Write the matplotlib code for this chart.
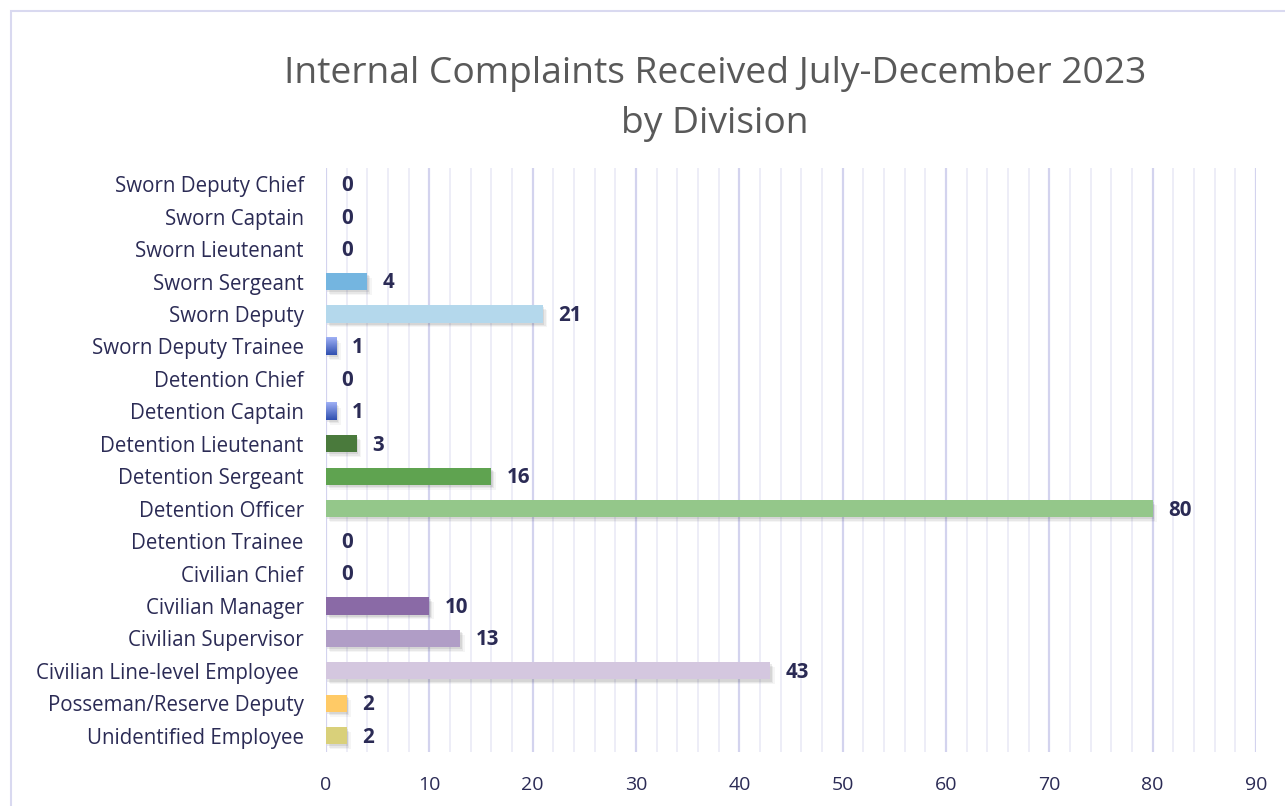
import numpy as np
import matplotlib

matplotlib.use("Agg")

import matplotlib.pyplot as plt
import matplotlib.patheffects as pe
from matplotlib.patches import Rectangle
from matplotlib.colors import LinearSegmentedColormap

# ======================
# DATA
# ======================

categories = [
    "Sworn Deputy Chief",
    "Sworn Captain",
    "Sworn Lieutenant",
    "Sworn Sergeant",
    "Sworn Deputy",
    "Sworn Deputy Trainee",
    "Detention Chief",
    "Detention Captain",
    "Detention Lieutenant",
    "Detention Sergeant",
    "Detention Officer",
    "Detention Trainee",
    "Civilian Chief",
    "Civilian Manager",
    "Civilian Supervisor",
    "Civilian Line-level Employee ",
    "Posseman/Reserve Deputy",
    "Unidentified Employee",
]
counts = [0, 0, 0, 4, 21, 1, 0, 1, 3, 16, 80, 0, 0, 10, 13, 43, 2, 2]
bar_colors = [
    "#74b5e0", "#74b5e0", "#74b5e0", "#74b5e0", "#b4d8ec", "#6a84dc",
    "#6a84dc", "#6a84dc", "#4a7a3c", "#5fa350", "#94c78a", "#94c78a",
    "#8a6aa6", "#8a6aa6", "#b09dc6", "#d4c7df", "#ffca66", "#d9d07a",
]
gradient_rows = ["Sworn Deputy Trainee", "Detention Captain"]

x_ticks = list(range(0, 100, 10))

title_color = "#595959"
text_color = "#2b2b55"

plt.rcParams["font.family"] = ["Open Sans", "DejaVu Sans"]

fig = plt.figure(figsize=(12.85, 8.06), dpi=100)
ax = fig.add_axes([326 / 1285, 1 - 752 / 806, (1256 - 326) / 1285, (752 - 168) / 806])

# outer frame of the chart area
fig.patches.append(Rectangle((11 / 1285, -0.05), 1.2, 1 - 11 / 806 + 0.05,
                             transform=fig.transFigure, fill=False,
                             edgecolor="#d9d9f0", linewidth=1.5))

y = np.arange(len(categories))
# soft drop shadow, a few faint layers
shadow = [
    pe.SimplePatchShadow(offset=(1, -1.5), alpha=0.10, shadow_rgbFace="#444444"),
    pe.SimplePatchShadow(offset=(2, -2.5), alpha=0.08, shadow_rgbFace="#444444"),
    pe.SimplePatchShadow(offset=(3, -3.5), alpha=0.05, shadow_rgbFace="#444444"),
    pe.Normal(),
]

bars = ax.barh(y, counts, height=0.53, color=bar_colors, zorder=3)
for b in bars:
    if b.get_width() > 0:
        b.set_path_effects(shadow)

# vertical blue gradient on the tiny bars
grad_cmap = LinearSegmentedColormap.from_list("blu", ["#9fb0f5", "#3050b0"])
for i, cat in enumerate(categories):
    if cat in gradient_rows and counts[i] > 0:
        b = bars[i]
        ax.imshow(np.linspace(0, 1, 50).reshape(-1, 1), cmap=grad_cmap, aspect="auto",
                  extent=[0, counts[i], b.get_y() + b.get_height(), b.get_y()],
                  zorder=4)

for i, v in enumerate(counts):
    ax.annotate(str(v), (v, y[i]), xytext=(11, -1), textcoords="offset points",
                ha="left", va="center", fontsize=14.8, fontweight="bold",
                color=text_color, zorder=5)

ax.set_xlim(0, 90)
ax.set_ylim(len(categories) - 0.5, -0.5)
ax.set_yticks(y)
ax.set_yticklabels(categories, fontsize=14.8, color=text_color)
ax.set_xticks(x_ticks)
ax.set_xticklabels([str(t) for t in x_ticks], fontsize=14, color=text_color)
ax.set_xticks(np.arange(0, 91, 2), minor=True)
ax.tick_params(axis="both", length=0, which="both")
ax.tick_params(axis="y", pad=16)
ax.tick_params(axis="x", pad=17)

ax.grid(axis="x", which="minor", color="#ececf7", linewidth=1.3, zorder=0)
ax.grid(axis="x", which="major", color="#d3d3ee", linewidth=1.6, zorder=0)
ax.set_axisbelow(True)
for s in ax.spines.values():
    s.set_visible(False)

fig.text(715 / 1285, 1 - 99 / 806, "Internal Complaints Received July-December 2023\nby Division",
         ha="center", va="center", fontsize=26.8, color=title_color, linespacing=1.5)

fig.savefig("out.png", dpi=100)
